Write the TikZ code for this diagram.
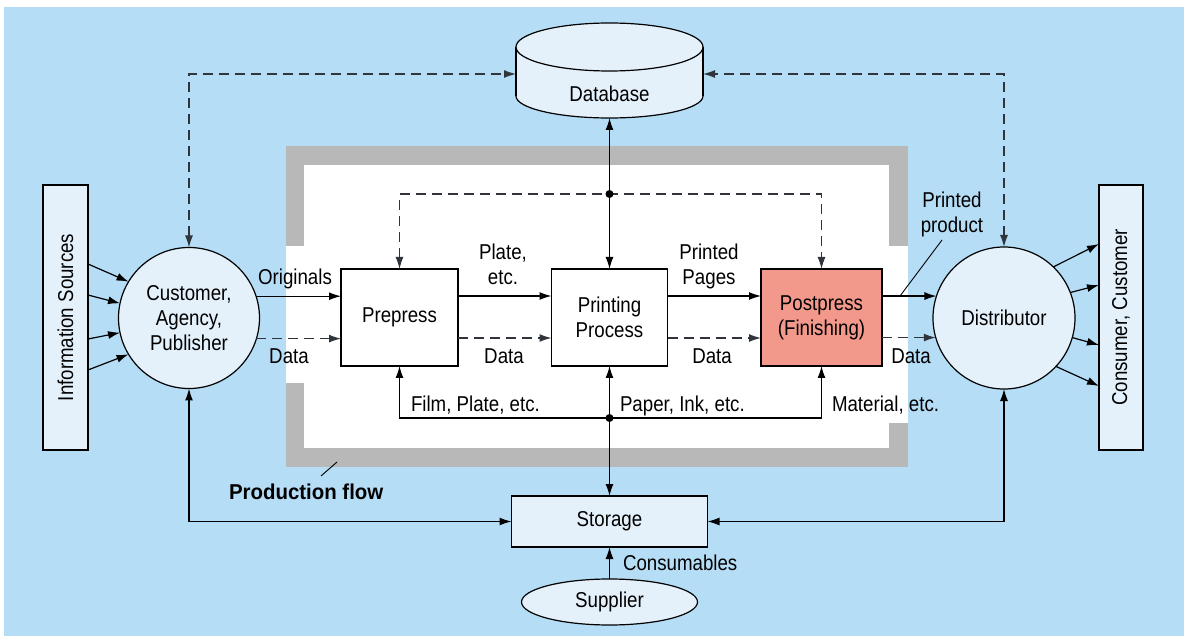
\documentclass[tikz,border=0pt]{standalone}
\usepackage{fontspec}
\setmainfont[FakeStretch=0.87]{Liberation Sans}
\newfontfamily\pflow[FakeStretch=0.95]{Liberation Sans}
\usetikzlibrary{arrows.meta,shapes.geometric,calc}
\definecolor{bgblue}{HTML}{B5DDF6}
\definecolor{boxfill}{HTML}{E4F1FB}
\definecolor{postred}{HTML}{F3998C}
\definecolor{framegray}{HTML}{B8B8B8}
\definecolor{dashcol}{HTML}{30353C}
\begin{document}
\begin{tikzpicture}[x=1pt,y=-1pt,
  >={Latex[length=12pt,width=8pt]},
  every node/.style={font=\fontsize{21.5}{25}\selectfont, inner sep=0pt, outer sep=0pt},
  procbox/.style={draw, line width=1.6pt, rectangle, minimum height=97pt, align=center},
  lightbox/.style={draw, line width=1.4pt, fill=boxfill, rectangle},
  roundnode/.style={draw, circle, line width=1.2pt, fill=boxfill, align=center},
  conn/.style={line width=1.2pt, ->},
  dconn/.style={line width=1.2pt, ->, draw=dashcol, dash pattern=on 10pt off 6pt},
  lbl/.style={anchor=base, align=center},
  lblw/.style={anchor=base west},
  leader/.style={line width=0.9pt}]
% background
\fill[white] (0,0) rectangle (1184,636);
\fill[bgblue] (4,7) rectangle (1184,636);
% production area
\fill[white] (286,165) rectangle (908,448);
\fill[framegray] (286,146) rectangle (908,165);
\fill[framegray] (286,146) rectangle (304,246);
\fill[framegray] (889,146) rectangle (908,246);
\fill[framegray] (286,448) rectangle (908,467);
\fill[framegray] (286,383) rectangle (304,467);
\fill[framegray] (889,423) rectangle (908,467);
% database cylinder
\filldraw[fill=boxfill, line width=1.2pt] (609.5,96) ellipse[x radius=93.5, y radius=22];
\fill[boxfill] (516,47) rectangle (703,96);
\draw[line width=1.2pt] (516,47) -- (516,96);
\draw[line width=1.2pt] (703,47) -- (703,96);
\filldraw[fill=boxfill, line width=1.2pt] (609.5,47) ellipse[x radius=93.5, y radius=24];
\node[minimum width=187pt, minimum height=95pt] (db) at (609.5,70.5) {};
\node (dbtext) at (609.5,94) {Database};
\coordinate (dbL) at (516,74);
\coordinate (dbR) at (703,74);
% nodes
\node[lightbox, minimum width=45pt, minimum height=265pt] (info) at (65.5,317.5) {};
\node[rotate=90] (infotext) at (info.center) {Information Sources};
\node[lightbox, minimum width=44pt, minimum height=265pt] (cons) at (1121,317.5) {};
\node[rotate=90] (constext) at (cons.center) {Consumer, Customer};
\node[roundnode, minimum size=141pt] (cust) at (189,318) {Customer,\\Agency,\\Publisher};
\node[roundnode, minimum size=142pt] (dist) at (1004,318) {Distributor};
\node[procbox, fill=white, minimum width=117pt] (prep) at (399.5,317.5) {Prepress};
\node[procbox, fill=white, minimum width=116pt] (print) at (609.5,317.5) {Printing\\Process};
\node[procbox, fill=postred, minimum width=121pt] (post) at (821.5,317.5) {Postpress\\(Finishing)};
\node[lightbox, minimum width=196pt, minimum height=51pt] (stor) at (609.5,521.5) {Storage};
\node[draw, ellipse, line width=1.2pt, fill=boxfill, minimum width=176pt, minimum height=46pt] (sup) at (609.5,602) {Supplier};
% fan in
\draw[conn] (info.east |- 0,264) -- (cust.149);
\draw[conn] (info.east |- 0,295) -- (cust.168);
\draw[conn] (info.east |- 0,339) -- (cust.192);
\draw[conn] (info.east |- 0,370) -- (cust.211);
% main flow
\draw[conn] (cust.18) -- (cust.18 -| prep.west);
\draw[dconn] (cust.-17) -- (cust.-17 -| prep.west);
\draw[conn] (prep.east |- 0,296) -- (print.west |- 0,296);
\draw[dconn] (prep.east |- 0,338) -- (print.west |- 0,338);
\draw[conn] (print.east |- 0,296) -- (post.west |- 0,296);
\draw[dconn] (print.east |- 0,338) -- (post.west |- 0,338);
\draw[conn] (post.east |- dist.162) -- (dist.162);
\draw[dconn] (post.east |- dist.196) -- (dist.196);
% fan out
\draw[conn] (dist.46) -- (cons.west |- 0,244);
\draw[conn] (dist.21) -- (cons.west |- 0,285);
\draw[conn] (dist.-16) -- (cons.west |- 0,345);
\draw[conn] (dist.-43) -- (cons.west |- 0,386);
% database links
\draw[dconn,<->] (cust.north) |- (dbL);
\draw[dconn,<->] (dist.north) |- (dbR);
\draw[conn,<->] (print.north) -- (print.north |- db.south);
\draw[dconn,<->] (prep.north) |- (post.north |- 0,194) -- (post.north);
\coordinate (jtop) at (print.north |- 0,194);
\fill (jtop) circle[radius=4pt];
% material links
\draw[conn,<->] (prep.south) |- (post.south |- 0,418) -- (post.south);
\draw[conn,<->] (print.south) -- (stor.north);
\coordinate (jbot) at (print.south |- 0,418);
\fill (jbot) circle[radius=4pt];
\draw[conn,<->] (cust.south) |- (stor.west);
\draw[conn,<->] (dist.south) |- (stor.east);
\draw[conn] (sup.north) -- (stor.south);
% labels
\node[lbl] (lorig) at (295,285) {Originals};
\node[lbl] (ldata1) at (289,363) {Data};
\node[lbl] (lplate) at (503,285) {Plate,\\etc.};
\node[lbl] (ldata2) at (504,364) {Data};
\node[lbl] (lpages) at (709,285) {Printed\\Pages};
\node[lbl] (ldata3) at (712,364) {Data};
\node[lbl] (ldata4) at (911,363) {Data};
\node[lbl] (lprod) at (952,233) {Printed\\product};
\node[lblw] (lfilm) at (411,411) {Film, Plate, etc.};
\node[lblw] (lpaper) at (620,411) {Paper, Ink, etc.};
\node[lblw] (lmat) at (832,411) {Material, etc.};
\node[lblw] (lcons) at (623,570) {Consumables};
\node[lblw, font=\pflow\bfseries\fontsize{21.5}{25}\selectfont] (lflow) at (229,499) {Production flow};
% leaders
\coordinate (ppA) at (900,296);
\coordinate (ppB) at (942,240);
\draw[leader] (ppA) -- (ppB);
\coordinate (pfA) at (321,476);
\coordinate (pfB) at (337,462);
\draw[leader] (pfA) -- (pfB);
\end{tikzpicture}
\end{document}
